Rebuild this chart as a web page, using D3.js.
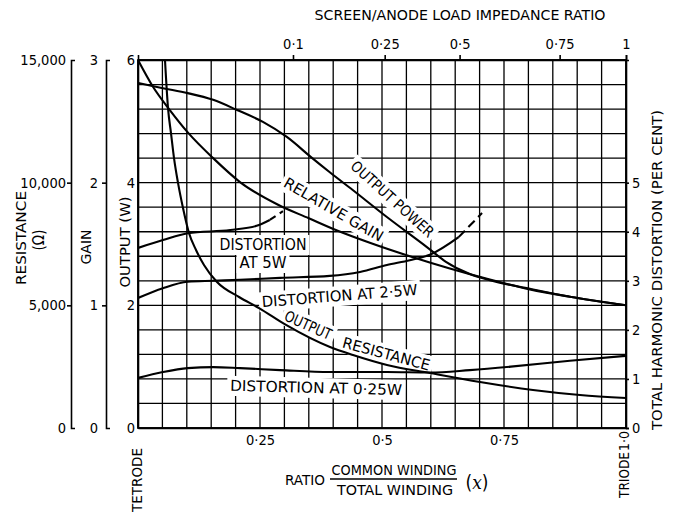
<!DOCTYPE html>
<html><head><meta charset="utf-8">
<script src="https://cdn.jsdelivr.net/npm/d3@7"></script>
<style>
body{margin:0;background:#fff}
svg{display:block;background:#fff}
text{font-family:'DejaVu Sans Condensed','Liberation Sans Narrow','DejaVu Sans',sans-serif;font-stretch:condensed;fill:#000;font-size:14px}
</style></head><body>
<svg id="c" width="678" height="513"></svg>
<script>
// ---------------- data ----------------
const gainX   = [0, 0.031, 0.0656, 0.102, 0.154, 0.209, 0.287, 0.35, 0.408, 0.475, 0.557, 0.639, 0.721, 0.803, 0.885, 1.0];
const gainVal = [3.0, 2.78, 2.59, 2.41, 2.20, 2.005, 1.82, 1.71, 1.61, 1.51, 1.40, 1.30, 1.21, 1.13, 1.07, 1.0];

const powerX   = [0, 0.051, 0.102, 0.154, 0.203, 0.256, 0.305, 0.357, 0.393, 0.44, 0.51, 0.592, 0.631, 0.68, 0.721, 0.803, 0.885, 1.0];
const powerVal = [5.625, 5.54, 5.46, 5.35, 5.185, 4.99, 4.745, 4.40, 4.17, 3.88, 3.44, 2.95, 2.71, 2.51, 2.41, 2.27, 2.14, 2.0];

const resX   = [0.0553, 0.0615, 0.0676, 0.0738, 0.082, 0.0922, 0.1045, 0.1189, 0.1352, 0.1619, 0.207, 0.248, 0.3033, 0.3934, 0.4406, 0.5102, 0.5984, 0.7008, 0.8094, 0.9057, 1.0];
const resVal = [15000, 13040, 12020, 11000, 9990, 8970, 7950, 7255, 6645, 5950, 5340, 4890, 4200, 3300, 2975, 2570, 2240, 1875, 1550, 1345, 1225];

const dist5X      = [0, 0.051, 0.102, 0.189, 0.243, 0.270];
const dist5Val    = [3.67, 3.83, 3.97, 4.035, 4.12, 4.24];
const dist5DashX  = [0.270, 0.297];
const dist5DashV  = [4.24, 4.42];

const dist25X     = [0, 0.051, 0.102, 0.154, 0.209, 0.291, 0.393, 0.455, 0.51, 0.557, 0.598, 0.657];
const dist25Val   = [2.65, 2.85, 2.98, 3.0, 3.02, 3.06, 3.10, 3.18, 3.32, 3.42, 3.53, 3.89];
const dist25DashX = [0.657, 0.705];
const dist25DashV = [3.89, 4.38];

const dist025X   = [0, 0.051, 0.102, 0.154, 0.209, 0.291, 0.393, 0.51, 0.598, 0.68, 0.764, 0.885, 1.0];
const dist025Val = [1.02, 1.14, 1.22, 1.24, 1.22, 1.18, 1.14, 1.14, 1.13, 1.18, 1.25, 1.37, 1.47];

const bottomTicks  = [0.25, 0.5, 0.75];
const bottomLabels = ["0·25", "0·5", "0·75"];
const topTickX     = [0.3176, 0.5055, 0.659, 0.864, 1.0];
const topLabels    = ["0·1", "0·25", "0·5", "0·75", "1"];
const resTicks     = [0, 5000, 10000, 15000];
const gainTicks    = [0, 1, 2, 3];
const powerTicks   = [0, 2, 4, 6];
const thdTicks     = [0, 1, 2, 3, 4, 5];

// ---------------- layout ----------------
const X0 = 138, X1 = 626, Y0 = 428, Y1 = 60;
const svg = d3.select("#c");
const x  = d3.scaleLinear([0, 1], [X0, X1]);
const yW = d3.scaleLinear([0, 6], [Y0, Y1]);
const yG = d3.scaleLinear([0, 3], [Y0, Y1]);
const yR = d3.scaleLinear([0, 15000], [Y0, Y1]);
const yD = d3.scaleLinear([0, 7.5], [Y0, Y1]);

svg.append("defs").append("clipPath").attr("id", "plotclip")
  .append("rect").attr("x", X0).attr("y", Y1).attr("width", X1 - X0).attr("height", Y0 - Y1);

const grid = svg.append("g").attr("stroke", "#000").attr("stroke-width", 1.3);
grid.selectAll("line.v").data(d3.range(0, 21).map(i => i * 0.05)).join("line")
  .attr("x1", d => x(d)).attr("x2", d => x(d)).attr("y1", Y1).attr("y2", Y0);
grid.selectAll("line.h").data(d3.range(0, 16).map(i => i * 0.4)).join("line")
  .attr("x1", X0).attr("x2", X1).attr("y1", d => yW(d)).attr("y2", d => yW(d));

const bgLayer = svg.append("g");
const curveLayer = svg.append("g").attr("clip-path", "url(#plotclip)");
const textLayer = svg.append("g");

svg.append("rect").attr("x", X0).attr("y", Y1).attr("width", X1 - X0).attr("height", Y0 - Y1)
  .attr("fill", "none").attr("stroke", "#000").attr("stroke-width", 1.7);

function curve(xs, vs, ys, dash) {
  const line = d3.line().x(d => x(d[0])).y(d => ys(d[1])).curve(d3.curveMonotoneX);
  curveLayer.append("path").datum(xs.map((v, i) => [v, vs[i]]))
    .attr("d", line).attr("fill", "none").attr("stroke", "#000")
    .attr("stroke-width", 2.1).attr("stroke-dasharray", dash || null);
}
curve(gainX, gainVal, yG);
curve(powerX, powerVal, yW);
curve(resX, resVal, yR);
curve(dist5X, dist5Val, yD);
curve(dist5DashX, dist5DashV, yD, "7,5");
curve(dist25X, dist25Val, yD);
curve(dist25DashX, dist25DashV, yD, "9,5");
curve(dist025X, dist025Val, yD);

function styleAxis(g, w) {
  g.attr("font-size", null).attr("font-family", null);
  g.selectAll("path,line").attr("stroke", "#000").attr("stroke-width", w || 1.6);
}
// bracket-style left axes: inner ticks point outwards, the two ends turn inwards
function bracketEnds(g, ticks) {
  const lo = d3.min(ticks), hi = d3.max(ticks);
  g.selectAll(".tick").filter(d => d === lo || d === hi).select("line").remove();
}
const intFmt = d3.format("d");
svg.append("g").attr("transform", "translate(71,0)")
  .call(d3.axisLeft(yR).tickValues(resTicks).tickFormat(d3.format(",")).tickSizeInner(4).tickSizeOuter(-4).tickPadding(1))
  .call(styleAxis).call(g => bracketEnds(g, resTicks));
svg.append("g").attr("transform", "translate(106,0)")
  .call(d3.axisLeft(yG).tickValues(gainTicks).tickFormat(intFmt).tickSizeInner(4).tickSizeOuter(-4).tickPadding(4))
  .call(styleAxis).call(g => bracketEnds(g, gainTicks));
svg.append("g").attr("transform", `translate(${X0},0)`)
  .call(d3.axisLeft(yW).tickValues(powerTicks).tickFormat(intFmt).tickSize(0).tickPadding(3))
  .call(styleAxis);
svg.append("g").attr("transform", `translate(${X1},0)`)
  .call(d3.axisRight(yD).tickValues(thdTicks).tickFormat(intFmt).tickSize(3).tickPadding(3))
  .call(styleAxis);
svg.append("g").attr("transform", `translate(0,${Y0})`)
  .call(d3.axisBottom(x).tickValues(bottomTicks).tickFormat((d, i) => bottomLabels[i]).tickSize(0).tickPadding(7))
  .call(styleAxis);
svg.append("g").attr("transform", `translate(0,${Y1})`)
  .call(d3.axisTop(x).tickValues(topTickX).tickFormat((d, i) => topLabels[i]).tickSize(5).tickPadding(6))
  .call(styleAxis);
svg.selectAll(".tick text").style("font-size", "14.5px");

function label(str, cx, cy, angle, opts) {
  opts = opts || {};
  const t = textLayer.append("text")
    .attr("transform", `translate(${cx},${cy}) rotate(${angle || 0})`)
    .attr("text-anchor", "middle")
    .style("font-size", (opts.size || 15) + "px")
    .text(str);
  if (opts.len) t.attr("textLength", opts.len).attr("lengthAdjust", "spacingAndGlyphs");
  if (opts.bg) {
    const b = t.node().getBBox();
    bgLayer.append("rect")
      .attr("transform", `translate(${cx},${cy}) rotate(${angle || 0})`)
      .attr("x", b.x - 3).attr("y", b.y - 1).attr("width", b.width + 6).attr("height", b.height + 2)
      .attr("fill", "#fff");
  }
  return t;
}

label("DISTORTION", 263, 250, 0, {len: 87, bg: true});
label("AT 5W", 263, 268, 0, {len: 47, bg: true});
label("DISTORTION AT 2·5W", 340, 301, -4.5, {len: 156, bg: true});
label("OUTPUT", 306, 330, 24, {len: 50, bg: true});
label("RESISTANCE", 385, 359, 15, {len: 90, bg: true});
label("DISTORTION AT 0·25W", 316, 393, 1.5, {len: 172, bg: true});
label("OUTPUT POWER", 389, 203, 42, {len: 106, bg: true});
label("RELATIVE GAIN", 331, 214, 30, {len: 112, bg: true});

label("SCREEN/ANODE LOAD IMPEDANCE RATIO", 460, 20, 0, {len: 291, size: 14});
label("TOTAL HARMONIC DISTORTION (PER CENT)", 662, 270, -90, {len: 320, size: 14});
label("RESISTANCE", 26, 238, -90, {len: 94, size: 14});
label("(Ω)", 44, 240, -90, {size: 15});
label("GAIN", 91, 247, -90, {len: 35, size: 14});
label("OUTPUT (W)", 130, 242, -90, {len: 91, size: 14});
label("TETRODE", 142, 480, -90, {len: 64, size: 14});
label("TRIODE", 629, 475, -90, {len: 46, size: 14});
label("1·0", 629, 441, -90, {len: 20, size: 14});
label("RATIO", 305, 485, 0, {len: 40, size: 14});
label("COMMON WINDING", 394, 475, 0, {len: 125, size: 14});
label("TOTAL WINDING", 395, 495, 0, {len: 116, size: 14});
svg.append("line").attr("x1", 330).attr("x2", 457).attr("y1", 479).attr("y2", 479)
  .attr("stroke", "#000").attr("stroke-width", 1.3);
const px = textLayer.append("text").attr("x", 477).attr("y", 489).attr("text-anchor", "middle").style("font-size", "19px");
px.append("tspan").text("(");
px.append("tspan").style("font-style", "italic").style("font-family", "'DejaVu Serif',serif").text("x");
px.append("tspan").text(")");
</script>
</body></html>
